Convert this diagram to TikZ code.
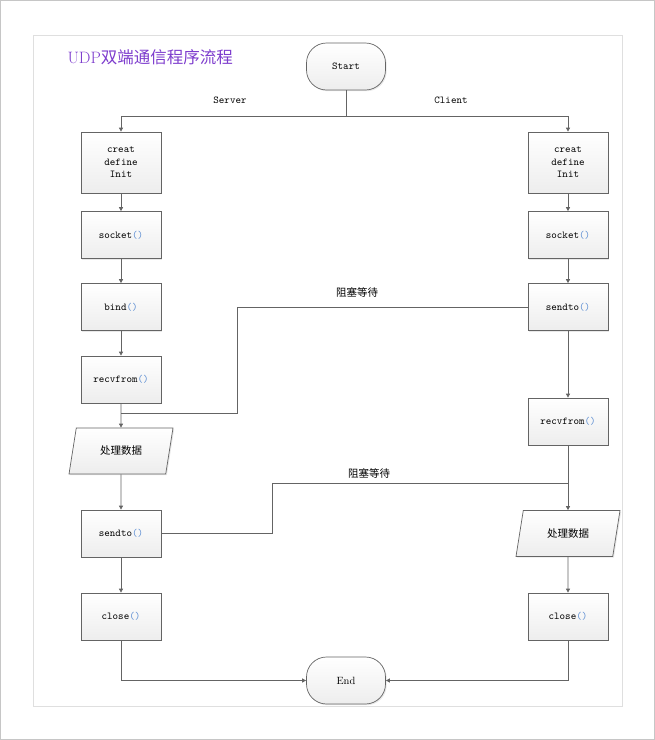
\documentclass[tikz,border=0pt]{standalone}
\usepackage{fontspec}
\newfontfamily\cjk{Noto Sans CJK SC}
\usetikzlibrary{positioning,calc,shapes.geometric,arrows.meta,shadows}
\definecolor{linecol}{RGB}{100,100,100}
\definecolor{parcol}{RGB}{90,140,210}
\definecolor{titlecol}{RGB}{125,60,205}
\newcommand{\fncall}[1]{#1\textcolor{parcol}{()}}

\begin{document}
\begin{tikzpicture}[
    x=1pt, y=-1pt,
    font=\fontsize{10.5}{12.5}\selectfont\ttfamily,
    shade box/.style={draw=linecol, line width=0.7pt, top color=white, bottom color=gray!14,
        drop shadow={shadow xshift=1.2pt, shadow yshift=-1.2pt, fill=gray!60, opacity=0.3}},
    procbox/.style={shade box, minimum width=80pt, minimum height=47pt, align=center, inner sep=2pt},
    termbox/.style={shade box, rounded corners=20pt, minimum width=79pt, minimum height=47pt},
    iobox/.style={shade box, trapezium, trapezium left angle=66, trapezium right angle=114,
        trapezium stretches body, minimum width=104pt, minimum height=46pt, font=\fontsize{10.5}{12.5}\selectfont\cjk},
    arrow/.style={-{Triangle[length=4pt, width=4pt]}, draw=linecol, line width=0.7pt},
    wait/.style={draw=linecol, line width=0.7pt},
    lbl/.style={font=\fontsize{10.5}{12.5}\selectfont\ttfamily},
    waitlbl/.style={font=\fontsize{10.5}{12.5}\selectfont\cjk},
]
\useasboundingbox (0,0) rectangle (655,740);
\draw[gray!45, line width=0.8pt] (0.5,0.5) rectangle (654.5,739.5);
\draw[gray!25, line width=0.6pt] (33,35) rectangle (622,706);
\node[anchor=west, text=titlecol, font=\fontsize{16.5}{19}\selectfont\rmfamily] (title) at (64,57) {UDP{\cjk 双端通信程序流程}};

% start / end
\node[termbox] (start) at (346,66.5) {Start};
\node[termbox, font=\fontsize{10.5}{12.5}\selectfont\rmfamily] (end) at (346,680.5) {End};

% server column
\node[procbox, minimum height=61pt] (lcreat) at (121,162.5) {creat\\define\\Init};
\node[procbox] (lsock) at (121,235) {\fncall{socket}};
\node[procbox] (lbind) at (121,307) {\fncall{bind}};
\node[procbox] (lrecv) at (121,379.5) {\fncall{recvfrom}};
\node[iobox] (ldata) at (121,451) {处理数据};
\node[procbox] (lsend) at (121,533.5) {\fncall{sendto}};
\node[procbox] (lclose) at (121,616.5) {\fncall{close}};

% client column
\node[procbox, minimum height=61pt] (rcreat) at (568,162.5) {creat\\define\\Init};
\node[procbox] (rsock) at (568,235) {\fncall{socket}};
\node[procbox] (rsend) at (568,307) {\fncall{sendto}};
\node[procbox] (rrecv) at (568,421.5) {\fncall{recvfrom}};
\node[iobox] (rdata) at (568,533.5) {处理数据};
\node[procbox] (rclose) at (568,616.5) {\fncall{close}};

% labels
\node[lbl] (srv) at (230,100) {Server};
\node[lbl] (cli) at (451,100) {Client};
\node[waitlbl] (wait1) at (357,292) {阻塞等待};
\node[waitlbl] (wait2) at (369,473) {阻塞等待};

% start branches
\coordinate (fork) at ($(start.south)+(0,26)$);
\draw[wait] (start.south) -- (fork);
\draw[arrow] (fork) -| (lcreat.north);
\draw[arrow] (fork) -| (rcreat.north);

% column flow
\foreach \a/\b in {lcreat/lsock, lsock/lbind, lbind/lrecv, lrecv/ldata, ldata/lsend, lsend/lclose,
                   rcreat/rsock, rsock/rsend, rsend/rrecv, rrecv/rdata, rdata/rclose}
    \draw[arrow] (\a) -- (\b);

% blocking waits
\coordinate (w1) at (237,413);
\coordinate (j1) at (121,413);
\draw[wait] (rsend.west) -| (w1) -- (j1);
\coordinate (w2) at (272,483);
\coordinate (j2) at (568,483);
\draw[wait] (lsend.east) -| (w2) -- (j2);

% end
\draw[arrow] (lclose.south) |- (end.west);
\draw[arrow] (rclose.south) |- (end.east);
\end{tikzpicture}
\end{document}
